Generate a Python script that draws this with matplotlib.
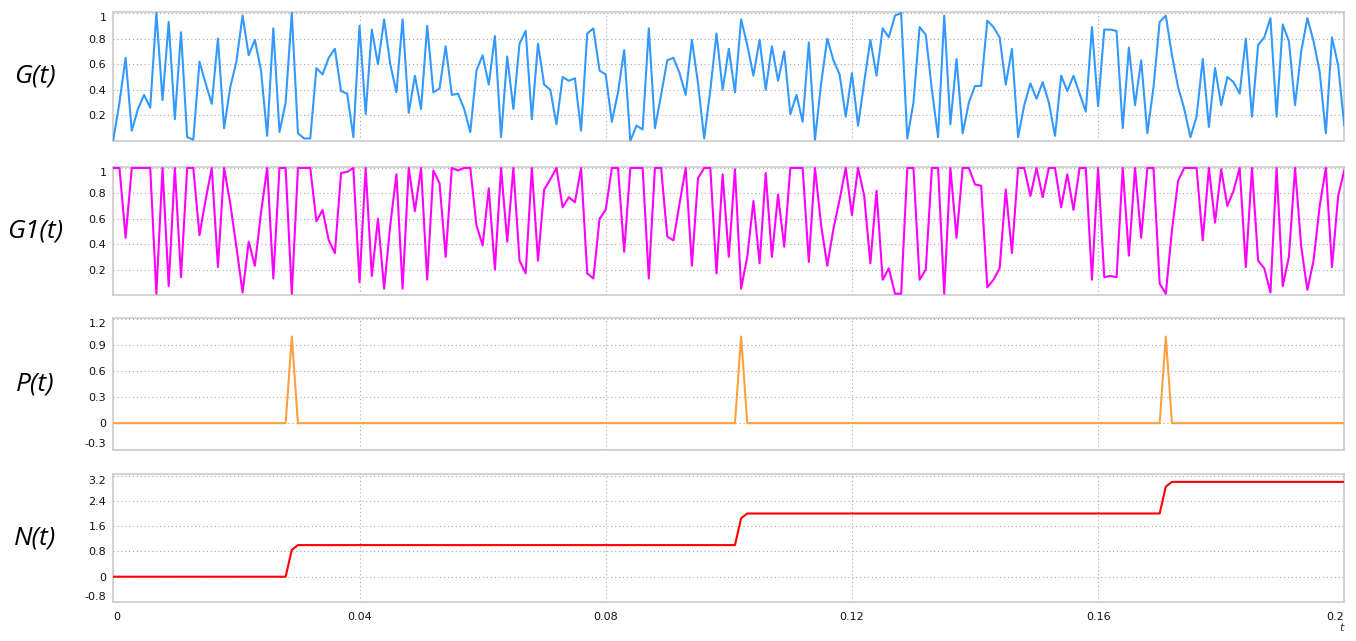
import numpy as np
import matplotlib
matplotlib.use("Agg")
import matplotlib.pyplot as plt

# sample times, step 0.001 s
t = np.arange(201) * 0.001

# signal values (one value per sample)
g = [0.01, 0.3, 0.65, 0.08, 0.25, 0.36, 0.26, 1.0, 0.32, 0.93,
     0.17, 0.85, 0.03, 0.01, 0.62, 0.45, 0.29, 0.8, 0.1, 0.42,
     0.62, 0.98, 0.67, 0.79, 0.55, 0.04, 0.88, 0.07, 0.3, 1.0,
     0.06, 0.02, 0.02, 0.57, 0.52, 0.65, 0.72, 0.39, 0.37, 0.03,
     0.9, 0.21, 0.87, 0.6, 0.95, 0.6, 0.38, 0.95, 0.22, 0.51,
     0.25, 0.9, 0.38, 0.41, 0.74, 0.36, 0.37, 0.25, 0.07, 0.55,
     0.67, 0.44, 0.82, 0.03, 0.66, 0.25, 0.76, 0.86, 0.17, 0.76,
     0.44, 0.4, 0.13, 0.5, 0.47, 0.49, 0.08, 0.84, 0.88, 0.55,
     0.52, 0.15, 0.38, 0.71, 0.0, 0.12, 0.09, 0.88, 0.1, 0.36,
     0.63, 0.65, 0.53, 0.36, 0.79, 0.45, 0.02, 0.4, 0.84, 0.4,
     0.72, 0.38, 0.95, 0.75, 0.51, 0.79, 0.4, 0.74, 0.47, 0.7,
     0.21, 0.36, 0.15, 0.77, 0.01, 0.45, 0.8, 0.63, 0.52, 0.19,
     0.53, 0.12, 0.46, 0.79, 0.51, 0.88, 0.81, 0.98, 1.0, 0.02,
     0.3, 0.89, 0.83, 0.4, 0.03, 0.98, 0.13, 0.64, 0.06, 0.3,
     0.43, 0.43, 0.94, 0.89, 0.81, 0.44, 0.72, 0.03, 0.28, 0.45,
     0.33, 0.46, 0.3, 0.04, 0.51, 0.39, 0.51, 0.37, 0.23, 0.89,
     0.27, 0.87, 0.87, 0.86, 0.1, 0.73, 0.28, 0.63, 0.06, 0.42,
     0.93, 0.98, 0.67, 0.42, 0.25, 0.03, 0.19, 0.64, 0.11, 0.57,
     0.28, 0.5, 0.46, 0.37, 0.8, 0.19, 0.75, 0.81, 0.96, 0.19,
     0.91, 0.78, 0.28, 0.7, 0.96, 0.78, 0.54, 0.06, 0.81, 0.59,
     0.12]

g1 = [1.0, 1.0, 0.45, 1.0, 1.0, 1.0, 1.0, 0.01, 1.0, 0.07,
      1.0, 0.14, 1.0, 1.0, 0.47, 0.75, 1.0, 0.22, 1.0, 0.72,
      0.38, 0.02, 0.42, 0.23, 0.65, 1.0, 0.13, 1.0, 1.0, 0.01,
      1.0, 1.0, 1.0, 0.58, 0.67, 0.43, 0.33, 0.96, 0.97, 1.0,
      0.1, 1.0, 0.15, 0.6, 0.05, 0.55, 0.95, 0.05, 1.0, 0.66,
      1.0, 0.12, 0.98, 0.88, 0.3, 1.0, 0.98, 1.0, 1.0, 0.55,
      0.39, 0.84, 0.2, 1.0, 0.42, 1.0, 0.27, 0.17, 1.0, 0.27,
      0.83, 0.91, 1.0, 0.69, 0.77, 0.73, 1.0, 0.17, 0.13, 0.6,
      0.67, 1.0, 1.0, 0.34, 1.0, 1.0, 1.0, 0.13, 1.0, 1.0,
      0.46, 0.43, 0.72, 1.0, 0.23, 0.92, 1.0, 1.0, 0.17, 0.95,
      0.3, 0.99, 0.05, 0.3, 0.74, 0.25, 0.96, 0.3, 0.79, 0.38,
      1.0, 1.0, 1.0, 0.26, 1.0, 0.55, 0.23, 0.52, 0.75, 1.0,
      0.63, 1.0, 0.78, 0.25, 0.82, 0.12, 0.21, 0.01, 0.01, 1.0,
      1.0, 0.12, 0.2, 1.0, 1.0, 0.01, 1.0, 0.45, 1.0, 1.0,
      0.87, 0.86, 0.06, 0.12, 0.21, 0.83, 0.33, 1.0, 1.0, 0.78,
      1.0, 0.77, 1.0, 1.0, 0.69, 0.95, 0.67, 1.0, 1.0, 0.12,
      1.0, 0.14, 0.15, 0.14, 1.0, 0.31, 1.0, 0.45, 1.0, 1.0,
      0.09, 0.01, 0.51, 0.9, 1.0, 1.0, 1.0, 0.43, 1.0, 0.57,
      0.99, 0.7, 0.82, 1.0, 0.22, 1.0, 0.27, 0.21, 0.02, 1.0,
      0.07, 0.3, 1.0, 0.38, 0.04, 0.27, 0.7, 1.0, 0.22, 0.78,
      0.98]

# pulses at samples 29, 102 and 171
p = [0.0] * 29 + [1.0] + [0.0] * 72 + [1.0] + [0.0] * 68 + [1.0] + [0.0] * 29

# pulse counter
n = ([0.0] * 29 + [0.85] + [1.0] * 72 + [1.85] + [2.0] * 68 + [2.85]
     + [3.0] * 29)

panel_labels = ["G(t)", "G1(t)", "P(t)", "N(t)"]
colors = ["#3399ff", "#ff00ff", "#ffa040", "#ff0000"]
yticks = [[0.2, 0.4, 0.6, 0.8, 1.0],
          [0.2, 0.4, 0.6, 0.8, 1.0],
          [-0.3, 0.0, 0.3, 0.6, 0.9, 1.2],
          [-0.8, 0.0, 0.8, 1.6, 2.4, 3.2]]
ytick_labels = [["0.2", "0.4", "0.6", "0.8", "1"],
                ["0.2", "0.4", "0.6", "0.8", "1"],
                ["-0.3", "0", "0.3", "0.6", "0.9", "1.2"],
                ["-0.8", "0", "0.8", "1.6", "2.4", "3.2"]]
ylims = [(0.0, 1.01), (0.0, 1.01), (-0.31, 1.21), (-0.81, 3.24)]
xticks = [0.0, 0.04, 0.08, 0.12, 0.16, 0.2]
xtick_labels = ["0", "0.04", "0.08", "0.12", "0.16", "0.2"]

plt.rcParams['font.family'] = ['DejaVu Sans']

W, H = 1356, 641
fig = plt.figure(figsize=(W / 100, H / 100), dpi=100)

# axes boxes in pixels: (top, bottom)
boxes = [(11.7, 141.0), (166.7, 295.0), (318.3, 450.0), (474.3, 602.3)]
left, right = 113.3, 1344.3

series = [g, g1, p, n]
for i, (top, bot) in enumerate(boxes):
    ax = fig.add_axes([left / W, 1 - bot / H, (right - left) / W, (bot - top) / H])
    ax.plot(t, series[i], color=colors[i], lw=1.5, zorder=3)
    ax.set_xlim(0, 0.2)
    ax.set_ylim(*ylims[i])
    ax.set_yticks(yticks[i])
    ax.set_yticklabels(ytick_labels[i])
    ax.set_xticks(xticks)
    ax.grid(True, color="#a8a8a8", linestyle=(0, (1, 2.5)), linewidth=0.8)
    for s in ax.spines.values():
        s.set_color("#cccccc")
        s.set_linewidth(1.2)
    ax.tick_params(length=0, labelsize=8, colors="#111111", pad=5)
    # keep edge labels inside the frame, as in the reference
    ylabs = ax.get_yticklabels()
    ylabs[-1].set_verticalalignment("top")
    if yticks[i][0] < 0:
        ylabs[0].set_verticalalignment("bottom")
    if i < 3:
        ax.set_xticklabels([])
    else:
        ax.set_xticklabels(xtick_labels)
        xlabs = ax.get_xticklabels()
        xlabs[0].set_horizontalalignment("left")
        xlabs[-1].set_horizontalalignment("right")
        ax.tick_params(axis="x", pad=7)
    fig.text(35 / W, 1 - (top + bot) / 2 / H, panel_labels[i],
             fontsize=19, style="italic", ha="center", va="center",
             family=["Open Sans", "DejaVu Sans"])

fig.text(1341 / W, 1 - 628 / H, "t", fontsize=8, style="italic",
         ha="center", va="center", color="#333333")

fig.savefig("out.png", dpi=100)
